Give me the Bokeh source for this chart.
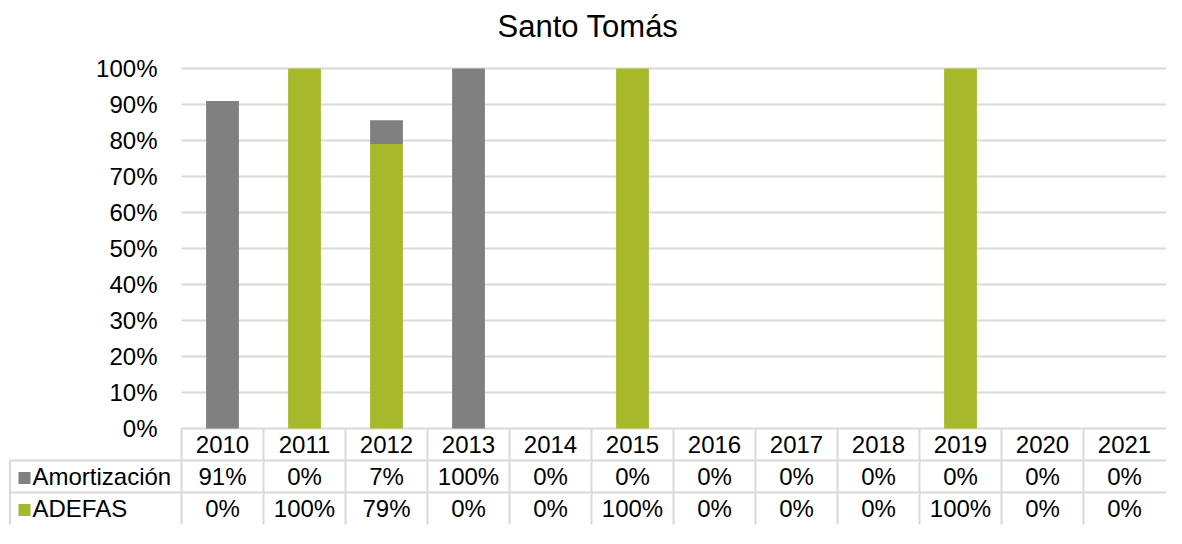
from bokeh.plotting import figure
from bokeh.models import Range1d, FixedTicker, NumeralTickFormatter
from bokeh.embed import file_html
from bokeh.resources import INLINE
from bokeh.core.properties import value

# ---- data ----
years = ["2010", "2011", "2012", "2013", "2014", "2015",
         "2016", "2017", "2018", "2019", "2020", "2021"]
amortizacion = [0.91, 0.0, 0.066, 1.0, 0.0, 0.0, 0.0, 0.0, 0.0, 0.0, 0.0, 0.0]
adefas = [0.0, 1.0, 0.79, 0.0, 0.0, 1.0, 0.0, 0.0, 0.0, 1.0, 0.0, 0.0]
series_names = ["Amortización", "ADEFAS"]
y_ticks = [0.0, 0.1, 0.2, 0.3, 0.4, 0.5, 0.6, 0.7, 0.8, 0.9, 1.0]
title_text = "Santo Tomás"

# ---- style / geometry ----
GRAY = "#808080"
GREEN = "#a6b92b"
LINE = "#d9d9d9"
FONT = "Liberation Sans"
TXT = "#000000"
FS = "24px"

W, H = 1166, 528
TOP = 45              # frame top (px)
COL_W = 82.0          # px per category
PLOT_LEFT = 181       # px where the category area begins
UNIT_Y = 360.0        # px per 100 %
ZERO_PX = 428         # px of the 0 % line
ROW_H = 32 / UNIT_Y   # table row height in data units

n = len(years)
xc = [i + 0.5 for i in range(n)]
x_start = -PLOT_LEFT / COL_W
x_end = (W - PLOT_LEFT) / COL_W
y_start = -(H - ZERO_PX) / UNIT_Y
y_end = (ZERO_PX - TOP) / UNIT_Y

p = figure(width=W, height=H, output_backend="svg", toolbar_location=None,
           x_range=Range1d(x_start, x_end), y_range=Range1d(y_start, y_end),
           x_axis_location=None, title=title_text,
           min_border_left=0, min_border_right=0, min_border_top=TOP,
           min_border_bottom=0)
p.outline_line_color = None
p.title.text_font = FONT
p.title.text_font_size = "31px"
p.title.text_font_style = "normal"
p.title.text_color = TXT
p.title.align = "left"
p.title.offset = 497
p.title.vertical_align = "top"
p.title.standoff = 0

# y axis placed at the start of the category area
p.yaxis.fixed_location = 0
p.yaxis.ticker = FixedTicker(ticks=y_ticks)
p.yaxis.formatter = NumeralTickFormatter(format="0%")
p.yaxis.axis_line_color = None
p.yaxis.major_tick_line_color = None
p.yaxis.minor_tick_line_color = None
p.yaxis.major_tick_out = 0
p.yaxis.major_tick_in = 0
p.yaxis.major_label_standoff = 24
p.yaxis.major_label_text_font = FONT
p.yaxis.major_label_text_font_size = FS
p.yaxis.major_label_text_color = TXT
p.xgrid.visible = False
p.ygrid.visible = False

# horizontal gridlines over the category area only
p.segment(x0=[0] * len(y_ticks), y0=y_ticks, x1=[x_end] * len(y_ticks),
          y1=y_ticks, line_color=LINE, line_width=2)

src = dict(x=xc, ADEFAS=adefas, Amortizacion=amortizacion)
p.vbar_stack(["ADEFAS", "Amortizacion"], x="x", width=0.4, source=src,
             color=[GREEN, GRAY], line_color=None)

# ---- data table ----
left_b = (9.5 - PLOT_LEFT) / COL_W
bottom = -3 * ROW_H
# column separators
p.segment(x0=list(range(n)), y0=[bottom] * n, x1=list(range(n)),
          y1=[0] * n, line_color=LINE, line_width=2)
# left border of the series rows
p.segment(x0=[left_b], y0=[bottom], x1=[left_b], y1=[-ROW_H],
          line_color=LINE, line_width=2)
# row separators
p.segment(x0=[left_b, left_b], y0=[-ROW_H, -2 * ROW_H],
          x1=[x_end, x_end], y1=[-ROW_H, -2 * ROW_H],
          line_color=LINE, line_width=2)

p.text(x=xc, y=[-0.5 * ROW_H] * n, text=years, text_font=value(FONT),
       text_font_size=FS, text_align="center", text_baseline="middle",
       text_color=TXT)

p.scatter(x=[(24 - PLOT_LEFT) / COL_W] * 2,
          y=[-1.55 * ROW_H, -2.55 * ROW_H], marker="square",
          size=12, color=[GRAY, GREEN], line_color=None)
p.text(x=[(32 - PLOT_LEFT) / COL_W] * 2, y=[-1.5 * ROW_H, -2.5 * ROW_H],
       text=series_names, text_font=value(FONT), text_font_size=FS,
       text_align="left", text_baseline="middle", text_color=TXT)

for r, vals in enumerate([amortizacion, adefas]):
    labels = [f"{v * 100:.0f}%" for v in vals]
    p.text(x=xc, y=[-(1.5 + r) * ROW_H] * n, text=labels,
           text_font=value(FONT), text_font_size=FS, text_align="center",
           text_baseline="middle", text_color=TXT)

open("out.html", "w").write(file_html(p, INLINE))
